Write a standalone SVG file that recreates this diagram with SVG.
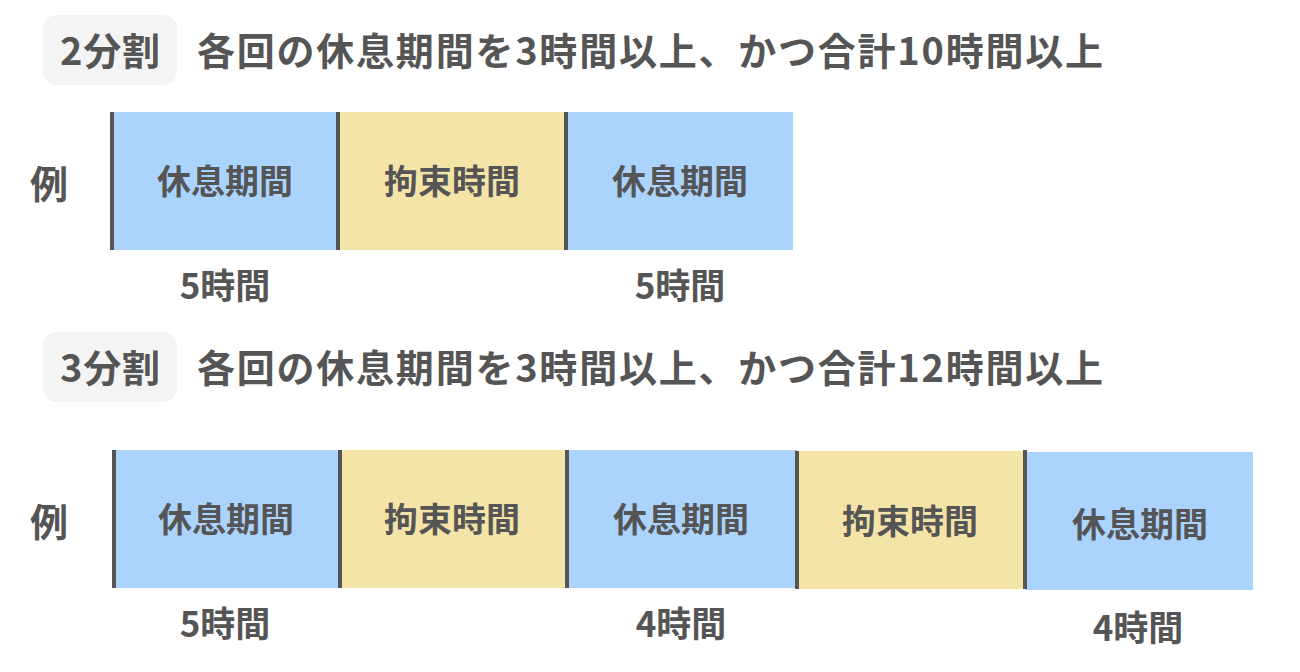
<svg xmlns="http://www.w3.org/2000/svg" width="1300" height="672" viewBox="0 0 1300 672">
<style>
text{font-family:"Noto Sans CJK JP","Noto Sans",sans-serif;font-weight:bold;fill:#555}
.t{font-size:38px}
.c{font-size:34px;text-anchor:middle}
.l{font-size:35px;text-anchor:middle}
.b{fill:#AAD4FD}.y{fill:#F4E4A8}
.badge{fill:#F4F4F4}
.d{stroke:#555;stroke-width:4}
</style>
<rect width="1300" height="672" fill="#fff"/>
<g id="head1"><rect class="badge" x="43" y="15" width="134" height="70" rx="14"/><text class="t" x="60" y="65" textLength="100">2分割</text><text class="t" x="197" y="65" textLength="906">各回の休息期間を3時間以上、かつ合計10時間以上</text></g>
<text class="t" x="30" y="198">例</text>
<g id="row1">
<rect class="b" x="113" y="112" width="225" height="138"/>
<rect class="y" x="338" y="112" width="228" height="138"/>
<rect class="b" x="566" y="112" width="227" height="138"/>
<text class="c" x="225" y="194">休息期間</text>
<text class="c" x="452" y="194">拘束時間</text>
<text class="c" x="680" y="194">休息期間</text>
<text class="l" x="225" y="299">5時間</text>
<text class="l" x="680" y="299">5時間</text>
</g>
<g id="head2"><rect class="badge" x="43" y="332" width="134" height="70" rx="14"/><text class="t" x="60" y="382" textLength="100">3分割</text><text class="t" x="197" y="382" textLength="906">各回の休息期間を3時間以上、かつ合計12時間以上</text></g>
<text class="t" x="30" y="536">例</text>
<g id="row2">
<rect class="b" x="113" y="450" width="227" height="138"/>
<rect class="y" x="340" y="450" width="227" height="138"/>
<rect class="b" x="567" y="450" width="230" height="138"/>
<rect class="y" x="797" y="451" width="228" height="138"/>
<rect class="b" x="1025" y="452" width="228" height="138"/>
<text class="c" x="226" y="532">休息期間</text>
<text class="c" x="452" y="532">拘束時間</text>
<text class="c" x="681" y="532">休息期間</text>
<text class="c" x="910" y="534">拘束時間</text>
<text class="c" x="1140" y="537">休息期間</text>
<text class="l" x="225" y="637">5時間</text>
<text class="l" x="681" y="637">4時間</text>
<text class="l" x="1138" y="641">4時間</text>
</g>
<g id="connectors">
<line class="d" x1="112" y1="112" x2="112" y2="250"/>
<line class="d" x1="338" y1="112" x2="338" y2="250"/>
<line class="d" x1="566" y1="112" x2="566" y2="250"/>
<line class="d" x1="114" y1="450" x2="114" y2="588"/>
<line class="d" x1="340" y1="450" x2="340" y2="588"/>
<line class="d" x1="567" y1="450" x2="567" y2="588"/>
<line class="d" x1="797" y1="451" x2="797" y2="589"/>
<line class="d" x1="1025" y1="450" x2="1025" y2="589"/>
</g>
</svg>
